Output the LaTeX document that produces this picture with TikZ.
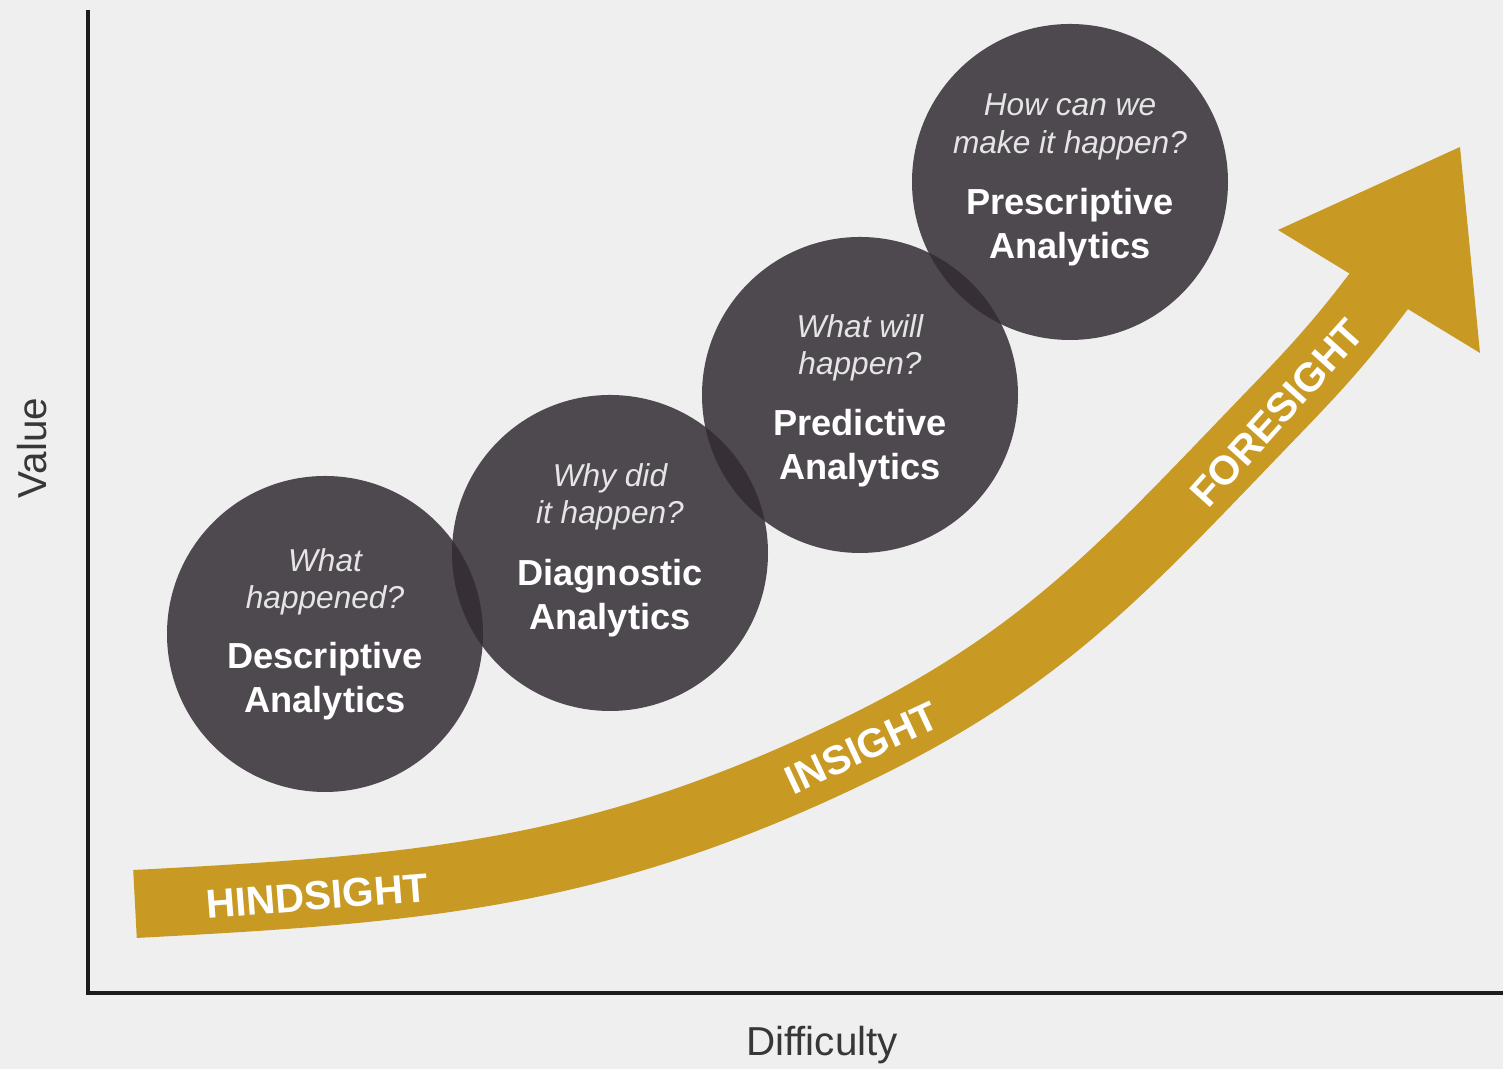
\documentclass[tikz,border=0pt]{standalone}
\usepackage{fontspec}
\setmainfont{Liberation Sans}
\definecolor{bggrey}{RGB}{239,239,239}
\definecolor{axisblack}{RGB}{30,27,30}
\definecolor{balldark}{RGB}{50,44,50}
\definecolor{gold}{RGB}{201,154,35}
\definecolor{labelgrey}{RGB}{55,55,55}
\begin{document}
\begin{tikzpicture}[
        ball/.style={circle, minimum size=3.16cm, inner sep=0pt, fill=balldark, fill opacity=0.85},
        question/.style={align=center, text=white!90!black, font=\fontsize{9}{10.7}\selectfont\itshape},
        kind/.style={align=center, text=white, font=\fontsize{10.3}{12.5}\selectfont\bfseries},
        bandtext/.style={text=white, font=\fontsize{11.5}{13}\selectfont\bfseries},
        axislabel/.style={text=labelgrey, font=\fontsize{11.5}{13}\selectfont}
    ]
        \useasboundingbox (0,0) rectangle (15.03,10.69);
        \fill[bggrey] (0,0) rectangle (15.03,10.69);

        % axes
        \coordinate (origin) at (0.88,0.76);
        \coordinate (ytop) at (0.88,10.59);
        \coordinate (xend) at (15.03,0.76);
        \draw[axisblack, line width=0.4mm] (ytop) -- (origin) -- (xend);
        \node[axislabel, rotate=90] (valuelabel) at (0.32,6.21) {Value};
        \node[axislabel] (difflabel) at (8.22,0.24) {Difficulty};

        % the curved arrow
        \coordinate (bandstart) at (1.35,1.65);
        \coordinate (bandbend) at (8.60,3.21);
        \coordinate (bandturn) at (12.75,6.58);
        \coordinate (bandend) at (13.82,7.82);
        \coordinate (tip) at (14.60,9.22);
        \coordinate (barbl) at (12.78,8.39);
        \coordinate (barbr) at (14.80,7.16);
        \draw[gold, line width=6.8mm] (bandstart) to[out=3,in=206] (bandbend)
            to[out=26,in=226] (bandturn) to[out=46,in=233] (bandend);
        \fill[gold] (tip) -- (barbl) -- (barbr) -- cycle;
        \node[bandtext, rotate=4.5] (hind) at (3.17,1.73) {HINDSIGHT};
        \node[bandtext, rotate=25] (ins) at (8.62,3.21) {INSIGHT};
        \node[bandtext, rotate=48] (fore) at (12.77,6.56) {FORESIGHT};

        % the four circles
        \node[ball] (desc) at (3.25,4.35) {};
        \node[ball] (diag) at (6.10,5.16) {};
        \node[ball] (pred) at (8.60,6.74) {};
        \node[ball] (pres) at (10.70,8.87) {};

        \node[question] (descq) at ([yshift=5.2mm]desc.center) {What\\happened?};
        \node[kind] (descn) at ([yshift=-4.7mm]desc.center) {Descriptive\\Analytics};
        \node[question] (diagq) at ([yshift=5.6mm]diag.center) {Why did\\it happen?};
        \node[kind] (diagn) at ([yshift=-4.5mm]diag.center) {Diagnostic\\Analytics};
        \node[question] (predq) at ([yshift=4.7mm]pred.center) {What will\\happen?};
        \node[kind] (predn) at ([yshift=-5.3mm]pred.center) {Predictive\\Analytics};
        \node[question] (presq) at ([yshift=5.5mm]pres.center) {How can we\\make it happen?};
        \node[kind] (presn) at ([yshift=-4.5mm]pres.center) {Prescriptive\\Analytics};
    \end{tikzpicture}
\end{document}
